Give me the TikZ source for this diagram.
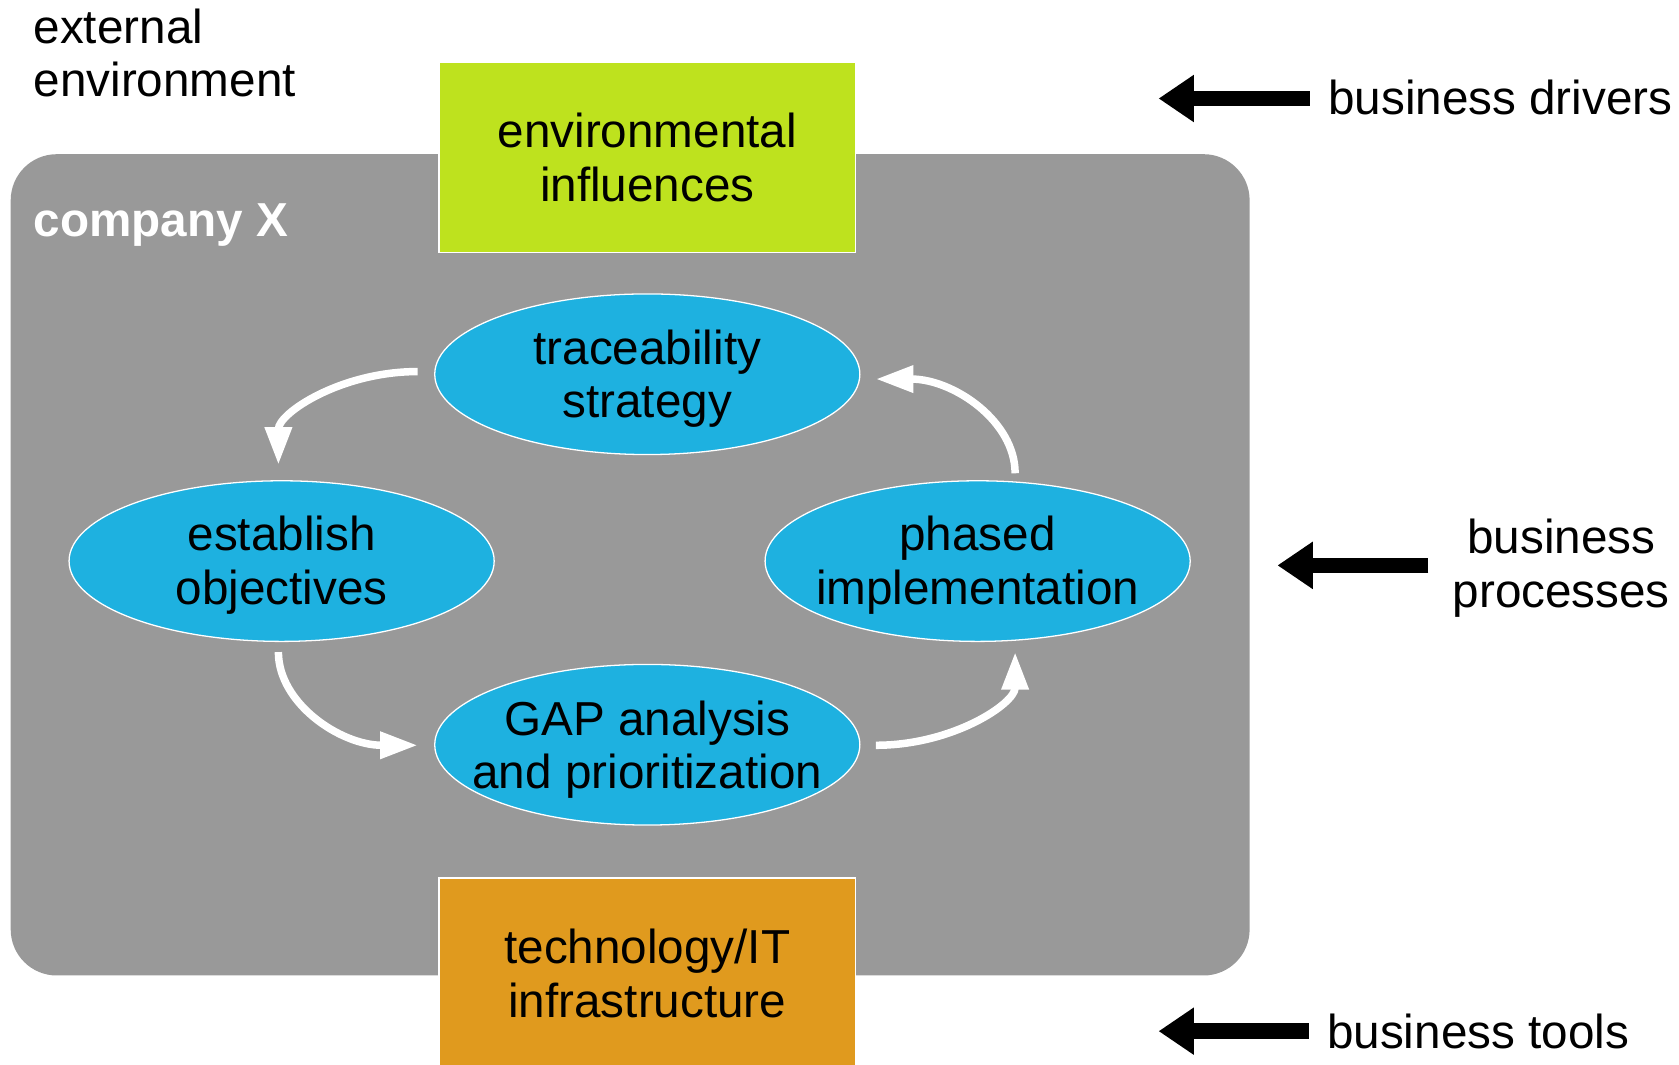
\documentclass[tikz,border=0pt]{standalone}
\usepackage{fontspec}
\setmainfont{Liberation Sans}
\usetikzlibrary{arrows.meta,shapes.geometric}
\definecolor{limeg}{RGB}{190,226,30}
\definecolor{orng}{RGB}{224,154,30}
\definecolor{skyb}{RGB}{30,177,224}
\definecolor{grayb}{RGB}{153,153,153}
\begin{document}
\begin{tikzpicture}[x=0.5pt,y=-0.5pt,
  txt/.style={font=\fontsize{22.25}{25}\selectfont, align=center, inner sep=0pt},
  ell/.style={ellipse, fill=skyb, draw=white, line width=0.6pt, minimum width=198.5pt, minimum height=75pt, inner sep=0pt},
  sqbox/.style={rectangle, draw=white, line width=0.6pt, minimum width=194.5pt, minimum height=89pt, txt},
  blk/.style={line width=7.2pt, -{Triangle[length=16.5pt,width=21pt]}},
  wht/.style={white, line width=3.5pt, -{Triangle[length=17.5pt,width=12pt]}}]
\useasboundingbox (0,0) rectangle (1568,994);
% company container
\node[fill=grayb, rounded corners=21.5pt, minimum width=578.5pt, minimum height=383.5pt, inner sep=0pt] (comp) at (588.5,527.5) {};
\node[anchor=base west, inner sep=0pt, text=white, font=\fontsize{22.25}{25}\selectfont\bfseries] (compx) at (31,221) {company X};
% top / bottom boxes
\node[sqbox, fill=limeg] (env) at (604.5,147) {environmental\\influences};
\node[sqbox, fill=orng] (tech) at (604.5,909) {technology/IT\\infrastructure};
% ellipses
\node[ell] (trace) at (604.5,349.5) {};
\node[ell] (estab) at (263,524) {};
\node[ell] (phased) at (913,524) {};
\node[ell] (gap) at (604.5,695.5) {};
\node[txt] (tracet) at ([yshift=-2pt]trace.center) {traceability\\strategy};
\node[txt] (estabt) at ([yshift=-2pt]estab.center) {establish\\objectives};
\node[txt] (phasedt) at ([yshift=-2pt]phased.center) {phased\\implementation};
\node[txt] (gapt) at ([yshift=-2.2pt]gap.center) {GAP analysis\\and prioritization};
% white cycle arrows
\coordinate (a1s) at (390,347); \coordinate (a1e) at (260,434);
\coordinate (a2s) at (260,609); \coordinate (a2e) at (390,696);
\coordinate (a3s) at (818,696); \coordinate (a3e) at (948,609);
\coordinate (a4s) at (948,442); \coordinate (a4e) at (818,354);
\draw[wht] (a1s) .. controls (318,347) and (260,386) .. (a1e);
\draw[wht] (a2s) .. controls (260,657) and (318,696) .. (a2e);
\draw[wht] (a3s) .. controls (890,696) and (948,657) .. (a3e);
\draw[wht] (a4s) .. controls (948,393) and (890,354) .. (a4e);
% outside texts
\node[txt, anchor=west, align=left] (ext) at (31,49.3) {external\\environment};
\node[txt, anchor=base west] (bd) at (1240,106.5) {business drivers};
\node[txt] (bp) at (1458,530.5) {business\\processes};
\node[txt, anchor=base west] (bt) at (1239,979) {business tools};
% black arrows
\coordinate (bdtail) at (1223,92); \coordinate (bdtip) at (1082,92);
\coordinate (bptail) at (1334,528); \coordinate (bptip) at (1193,528);
\coordinate (bttail) at (1222,963); \coordinate (bttip) at (1082,963);
\draw[blk] (bdtail) -- (bdtip);
\draw[blk] (bptail) -- (bptip);
\draw[blk] (bttail) -- (bttip);
\end{tikzpicture}
\end{document}
